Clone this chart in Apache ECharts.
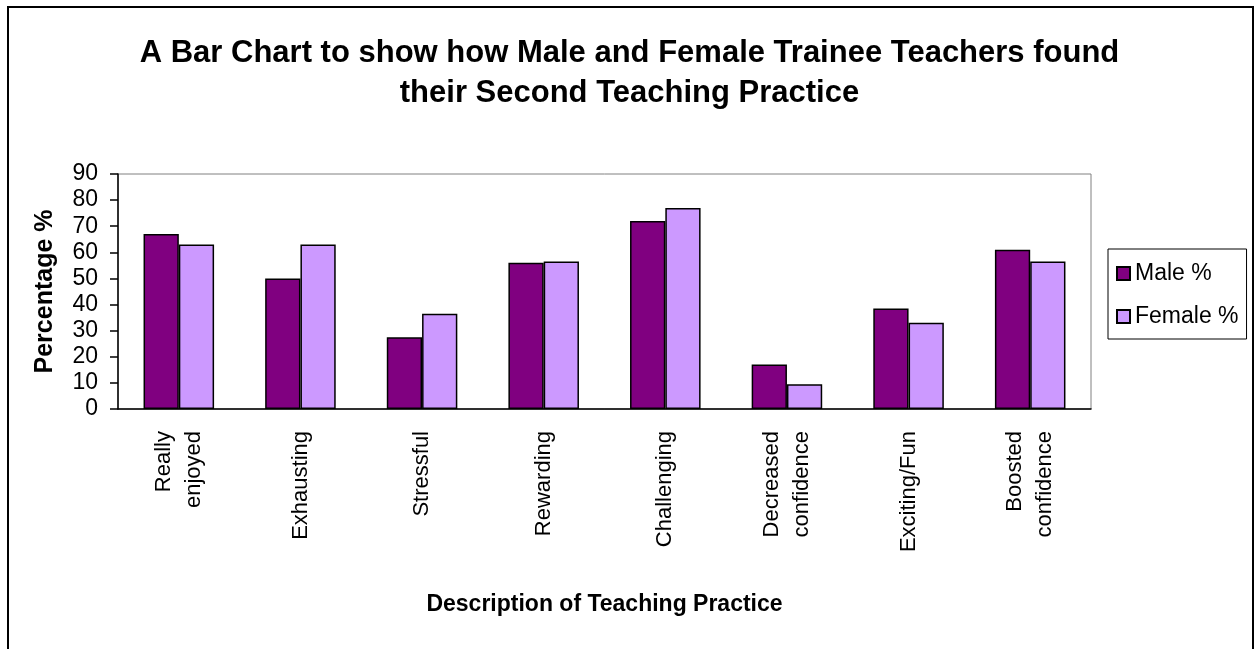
<!DOCTYPE html>
<html>
<head>
<meta charset="utf-8">
<title>Trainee Teachers - Second Teaching Practice</title>
<script src="https://cdn.jsdelivr.net/npm/echarts@6/dist/echarts.min.js"></script>
<style>
  html, body { margin: 0; padding: 0; background: #fff; }
  #chart { width: 1259px; height: 649px; }
</style>
</head>
<body>
<div id="chart"></div>
<script>
  // data
  const categories = ['Really\nenjoyed', 'Exhausting', 'Stressful', 'Rewarding',
    'Challenging', 'Decreased\nconfidence', 'Exciting/Fun', 'Boosted\nconfidence']
  const maleValues = [67, 50, 27.5, 56, 72, 17, 38.5, 61]
  const femaleValues = [63, 63, 36.5, 56.5, 77, 9.5, 33, 56.5]
  const seriesNames = ['Male %', 'Female %']

  const font = 'Liberation Sans, Arial, sans-serif'

  let myCharts = echarts.init(document.getElementById('chart'))
  let option = {
    backgroundColor: '#fff',
    animation: false,
    color: ['#800080', '#CC99FF'],
    title: {
      text: 'A Bar Chart to show how Male and Female Trainee Teachers found\ntheir Second Teaching Practice',
      left: 'center',
      top: 28,
      textStyle: {
        fontFamily: font,
        fontSize: 31,
        fontWeight: 'bold',
        color: '#000',
        lineHeight: 40
      }
    },
    // outer frame of the chart
    graphic: [{
      type: 'rect',
      shape: { x: 8, y: 7, width: 1245, height: 700 },
      style: { fill: 'none', stroke: '#000', lineWidth: 2 },
      silent: true
    }],
    grid: {
      left: 118,
      top: 174,
      right: 168,
      bottom: 240,
      show: true,
      borderColor: '#808080',
      borderWidth: 1
    },
    legend: {
      orient: 'vertical',
      left: 1108,
      top: 249,
      padding: [13, 8, 11, 8],
      itemWidth: 13,
      itemHeight: 13,
      itemGap: 20,
      borderColor: '#000',
      borderWidth: 1,
      icon: 'rect',
      textStyle: { fontFamily: font, fontSize: 23, color: '#000' },
      data: seriesNames
    },
    xAxis: {
      type: 'category',
      data: categories,
      name: 'Description of Teaching Practice',
      nameLocation: 'middle',
      nameGap: 184,
      nameTextStyle: { fontFamily: font, fontSize: 23, fontWeight: 'bold', color: '#000' },
      axisLine: { lineStyle: { color: '#000', width: 1.5 } },
      axisTick: { length: 8, lineStyle: { color: '#000', width: 1.5 } },
      axisLabel: {
        interval: 0,
        rotate: 90,
        margin: 22,
        fontFamily: font,
        fontSize: 22,
        lineHeight: 30,
        color: '#000'
      }
    },
    yAxis: {
      type: 'value',
      min: 0,
      max: 90,
      interval: 10,
      name: 'Percentage %',
      nameLocation: 'middle',
      nameGap: 60,
      nameTextStyle: { fontFamily: font, fontSize: 25, fontWeight: 'bold', color: '#000' },
      axisLine: { show: true, lineStyle: { color: '#000', width: 1.5 } },
      axisTick: { show: true, length: 8, lineStyle: { color: '#000', width: 1.5 } },
      axisLabel: { margin: 20, fontFamily: font, fontSize: 23, color: '#000' },
      splitLine: { show: false }
    },
    series: [
      {
        name: seriesNames[0],
        type: 'bar',
        data: maleValues,
        barGap: '0%',
        barCategoryGap: '42%',
        itemStyle: { borderColor: '#000', borderWidth: 1.5 }
      },
      {
        name: seriesNames[1],
        type: 'bar',
        data: femaleValues,
        itemStyle: { borderColor: '#000', borderWidth: 1.5 }
      }
    ]
  }
  myCharts.setOption(option)
</script>
</body>
</html>
